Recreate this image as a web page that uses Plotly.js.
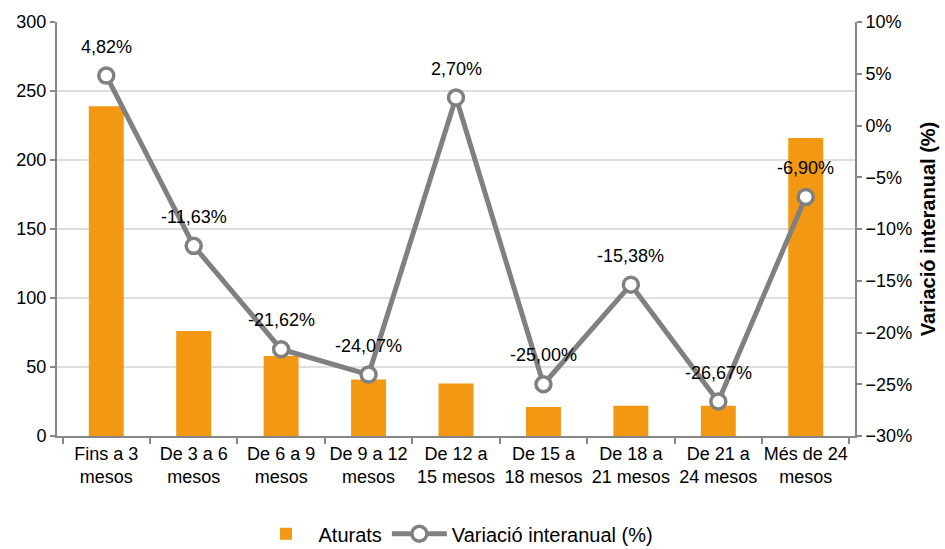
<!DOCTYPE html>
<html>
<head>
<meta charset="utf-8">
<script src="https://cdn.plot.ly/plotly-3.0.1.min.js"></script>
<style>html,body{margin:0;padding:0;background:#fff;}#chart{width:945px;height:549px;}</style>
</head>
<body>
<div id="chart"></div>
<script>
const categories = ["Fins a 3<br>mesos", "De 3 a 6<br>mesos", "De 6 a 9<br>mesos", "De 9 a 12<br>mesos", "De 12 a<br>15 mesos", "De 15 a<br>18 mesos", "De 18 a<br>21 mesos", "De 21 a<br>24 mesos", "Més de 24<br>mesos"];
const aturats = [239, 76, 58, 41, 38, 21, 22, 22, 216];
const variacio = [4.82, -11.63, -21.62, -24.07, 2.70, -25.00, -15.38, -26.67, -6.90];

const font = "Liberation Sans, Arial, sans-serif";
const axisColor = "#868686";

const traces = [
  {
    type: "bar", name: "Aturats", x: categories, y: aturats,
    marker: {color: "#F39813"}, width: 0.4, yaxis: "y"
  },
  {
    type: "scatter", mode: "lines+markers", name: "Variació interanual (%)",
    x: categories, y: variacio, yaxis: "y2",
    line: {color: "#808080", width: 5},
    marker: {size: 15, color: "#ffffff", line: {color: "#808080", width: 3.5}}
  }
];

const fmt = v => v.toFixed(2).replace(".", ",") + "%";
const annotations = categories.map((c, i) => ({
  x: c, y: variacio[i], xref: "x", yref: "y2", text: fmt(variacio[i]),
  showarrow: false, yshift: 29, font: {size: 18, color: "#000", family: font}
}));

const layout = {
  width: 945, height: 549,
  margin: {l: 57, r: 90, t: 22, b: 113, autoexpand: false},
  paper_bgcolor: "#fff", plot_bgcolor: "#fff",
  separators: ",.",
  font: {family: font, size: 18, color: "#000"},
  showlegend: true,
  legend: {orientation: "h", x: 0.5, xanchor: "center", y: -0.236, yanchor: "middle",
           font: {size: 20, family: font}, traceorder: "normal", itemwidth: 55},
  bargap: 0.6,
  annotations: annotations,
  xaxis: {
    type: "category", showline: true, linecolor: axisColor, linewidth: 2,
    ticks: "outside", tickson: "boundaries", ticklen: 6, tickcolor: axisColor, tickwidth: 2,
    tickfont: {size: 18}, tickangle: 0, showgrid: false, zeroline: false, automargin: false
  },
  yaxis: {
    range: [0, 300], dtick: 50, showline: true, linecolor: axisColor, linewidth: 2,
    ticks: "outside", ticklen: 5, tickcolor: axisColor, tickwidth: 2,
    showgrid: true, gridcolor: "#dedede", gridwidth: 2, zeroline: false,
    tickfont: {size: 18}, automargin: false
  },
  yaxis2: {
    overlaying: "y", side: "right", range: [-30, 10], dtick: 5, ticksuffix: "%",
    showline: true, linecolor: axisColor, linewidth: 2,
    ticks: "outside", ticklen: 5, tickcolor: axisColor, tickwidth: 2,
    showgrid: false, zeroline: false, tickfont: {size: 18}, automargin: false,
    title: {text: "Variació interanual (%)", font: {size: 20, family: font, weight: "bold"}, standoff: 10}
  }
};

Plotly.newPlot("chart", traces, layout, {displayModeBar: false, staticPlot: true});
</script>
</body>
</html>
